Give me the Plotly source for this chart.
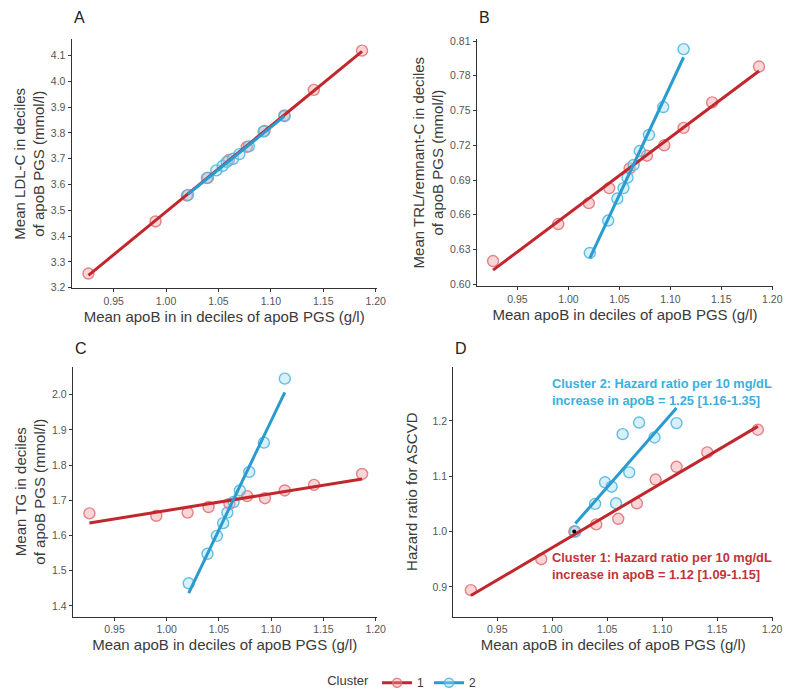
import numpy as np
import plotly.graph_objects as go

# ---- data ----
x_c1 = [0.926, 0.990, 1.020, 1.040, 1.060, 1.077, 1.094, 1.113, 1.141, 1.187]
x_c2 = [1.021, 1.039, 1.048, 1.054, 1.058, 1.064, 1.070, 1.079, 1.093, 1.113]

ldl_c1 = [3.255, 3.457, 3.557, 3.627, 3.695, 3.746, 3.808, 3.868, 3.967, 4.119]
ldl_c2 = [3.560, 3.625, 3.655, 3.672, 3.688, 3.700, 3.718, 3.748, 3.805, 3.865]

trl_c1 = [0.620, 0.652, 0.670, 0.683, 0.700, 0.711, 0.720, 0.735, 0.757, 0.788]
trl_c2 = [0.627, 0.655, 0.674, 0.683, 0.692, 0.703, 0.715, 0.729, 0.753, 0.803]

tg_c1 = [1.663, 1.656, 1.665, 1.681, 1.690, 1.712, 1.706, 1.728, 1.744, 1.775]
tg_c2 = [1.464, 1.548, 1.599, 1.635, 1.665, 1.695, 1.728, 1.781, 1.864, 2.046]

hr_c1 = [0.894, 0.950, 1.000, 1.013, 1.023, 1.051, 1.094, 1.117, 1.143, 1.184]
hr_c2 = [1.000, 1.050, 1.089, 1.081, 1.051, 1.176, 1.107, 1.197, 1.170, 1.196]

ref_x = [1.020]
ref_y = [1.000]

x_ticks = [0.95, 1.00, 1.05, 1.10, 1.15, 1.20]
ldl_ticks = [3.2, 3.3, 3.4, 3.5, 3.6, 3.7, 3.8, 3.9, 4.0, 4.1]
trl_ticks = [0.60, 0.63, 0.66, 0.69, 0.72, 0.75, 0.78, 0.81]
tg_ticks = [1.4, 1.5, 1.6, 1.7, 1.8, 1.9, 2.0]
hr_ticks = [0.9, 1.0, 1.1, 1.2]

text_c2 = "Cluster 2: Hazard ratio per 10 mg/dL<br>increase in apoB = 1.25 [1.16-1.35]"
text_c1 = "Cluster 1: Hazard ratio per 10 mg/dL<br>increase in apoB = 1.12 [1.09-1.15]"

# ---- styles ----
RED = "#C1272D"
BLUE = "#2A9BCF"
RED_FILL = "rgba(240,150,155,0.40)"
RED_EDGE = "rgba(225,110,115,0.85)"
BLUE_FILL = "rgba(160,215,240,0.40)"
BLUE_EDGE = "rgba(80,185,225,0.90)"
FONT = "Liberation Sans, Arial, sans-serif"
TICK_COL = "#555555"
TITLE_COL = "#3a3a3a"

fig = go.Figure()

panels = [
    # label, xaxis, yaxis, y c1, y c2, xdomain, ydomain, yrange, yticks, xtitle, ytitle, fmt, ystandoff
    ("A", "x", "y", ldl_c1, ldl_c2, [0.0796, 0.4609], [0.5996, 0.9553], [3.198, 4.163], ldl_ticks,
     "Mean apoB in in deciles of apoB PGS (g/l)", "Mean LDL-C in deciles<br>of apoB PGS (mmol/l)", "%.1f", 2),
    ("B", "x2", "y2", trl_c1, trl_c2, [0.5859, 0.9566], [0.6029, 0.9553], [0.5985, 0.8115], trl_ticks,
     "Mean apoB in deciles of apoB PGS (g/l)", "Mean TRL/remnant-C in deciles<br>of apoB PGS (mmol/l)", "%.2f", 2),
    ("C", "x3", "y3", tg_c1, tg_c2, [0.0809, 0.4609], [0.1304, 0.4876], [1.369, 2.08], tg_ticks,
     "Mean apoB in deciles of apoB PGS (g/l)", "Mean TG in deciles<br>of apoB PGS (mmol/l)", "%.1f", 2),
    ("D", "x4", "y4", hr_c1, hr_c2, [0.5566, 0.9566], [0.1304, 0.4876], [0.846, 1.298], hr_ticks,
     "Mean apoB in deciles of apoB PGS (g/l)", "Hazard ratio for ASCVD", "%.1f", 11),
]

layout_axes = {}
annotations = []
for lab, xa, ya, yc1, yc2, xd, yd, yr, yt, xtitle, ytitle, fmt, ystand in panels:
    for xs, ys, fill, edge in [
        (x_c1, yc1, RED_FILL, RED_EDGE),
        (x_c2, yc2, BLUE_FILL, BLUE_EDGE),
    ]:
        fig.add_trace(go.Scatter(
            x=xs, y=ys, mode="markers", xaxis=xa, yaxis=ya, showlegend=False,
            marker=dict(size=11, color=fill, line=dict(color=edge, width=1.4)),
            hoverinfo="skip"))
    for xs, ys, col in [
        (x_c1, yc1, RED),
        (x_c2, yc2, BLUE),
    ]:
        k, b = np.polyfit(xs, ys, 1)
        xl = np.array([min(xs), max(xs)])
        fig.add_trace(go.Scatter(
            x=xl, y=k * xl + b, mode="lines", xaxis=xa, yaxis=ya,
            line=dict(color=col, width=3), showlegend=False, hoverinfo="skip"))
    if lab == "D":
        fig.add_trace(go.Scatter(x=ref_x, y=ref_y, mode="markers", xaxis=xa, yaxis=ya,
                                 marker=dict(size=4, color="black"), showlegend=False,
                                 hoverinfo="skip"))
    xkey = "xaxis" + xa[1:]
    ykey = "yaxis" + ya[1:]
    layout_axes[xkey] = dict(
        domain=xd, anchor=ya, range=[0.91, 1.201], tickvals=x_ticks,
        ticktext=["%.2f" % v for v in x_ticks],
        showline=True, linecolor="#333333", linewidth=1.2, ticks="outside", ticklen=3,
        tickcolor="#333333", showgrid=False, zeroline=False, automargin=False,
        tickfont=dict(family=FONT, size=10.5, color=TICK_COL),
        title=dict(text=xtitle, font=dict(family=FONT, size=15, color=TITLE_COL), standoff=5))
    layout_axes[ykey] = dict(
        domain=yd, anchor=xa, range=yr, tickvals=yt, ticktext=[fmt % v for v in yt],
        showline=True, linecolor="#333333", linewidth=1.2, ticks="outside", ticklen=3,
        tickcolor="#333333", showgrid=False, zeroline=False, automargin=False,
        tickfont=dict(family=FONT, size=10.5, color=TICK_COL),
        title=dict(text=ytitle, font=dict(family=FONT, size=15, color=TITLE_COL), standoff=ystand))
    label_y = 0.987 if lab in ("A", "B") else 0.514
    annotations.append(dict(text=lab, x=xd[0], y=label_y, xref="paper", yref="paper",
                            xanchor="left", yanchor="middle", showarrow=False,
                            font=dict(family=FONT, size=16, color="#222222")))

annotations.append(dict(text=text_c2, x=0.998, y=1.252, xref="x4", yref="y4", xanchor="left",
                        yanchor="middle", align="left", showarrow=False,
                        font=dict(family=FONT, size=12.8, color="#3BB0DE", weight="bold")))
annotations.append(dict(text=text_c1, x=0.998, y=0.937, xref="x4", yref="y4", xanchor="left",
                        yanchor="middle", align="left", showarrow=False,
                        font=dict(family=FONT, size=12.8, color="#C0353A", weight="bold")))

# legend entries
for col, fill, edge, name in [(RED, RED_FILL, RED_EDGE, "1"), (BLUE, BLUE_FILL, BLUE_EDGE, "2")]:
    fig.add_trace(go.Scatter(x=[None], y=[None], mode="lines+markers", name=name,
                             line=dict(color=col, width=3),
                             marker=dict(size=9, color=fill, line=dict(color=edge, width=1.4)),
                             xaxis="x", yaxis="y", showlegend=True))

fig.update_layout(
    width=800, height=700, margin=dict(l=0, r=0, t=0, b=0),
    paper_bgcolor="white", plot_bgcolor="white",
    font=dict(family=FONT),
    annotations=annotations,
    legend=dict(orientation="h", x=0.494, xanchor="center", y=0.036, yanchor="middle",
                title=dict(text="Cluster", font=dict(family=FONT, size=13, color=TITLE_COL)),
                font=dict(family=FONT, size=12, color=TITLE_COL), itemwidth=30),
    **layout_axes,
)

fig.write_html("out.html")
